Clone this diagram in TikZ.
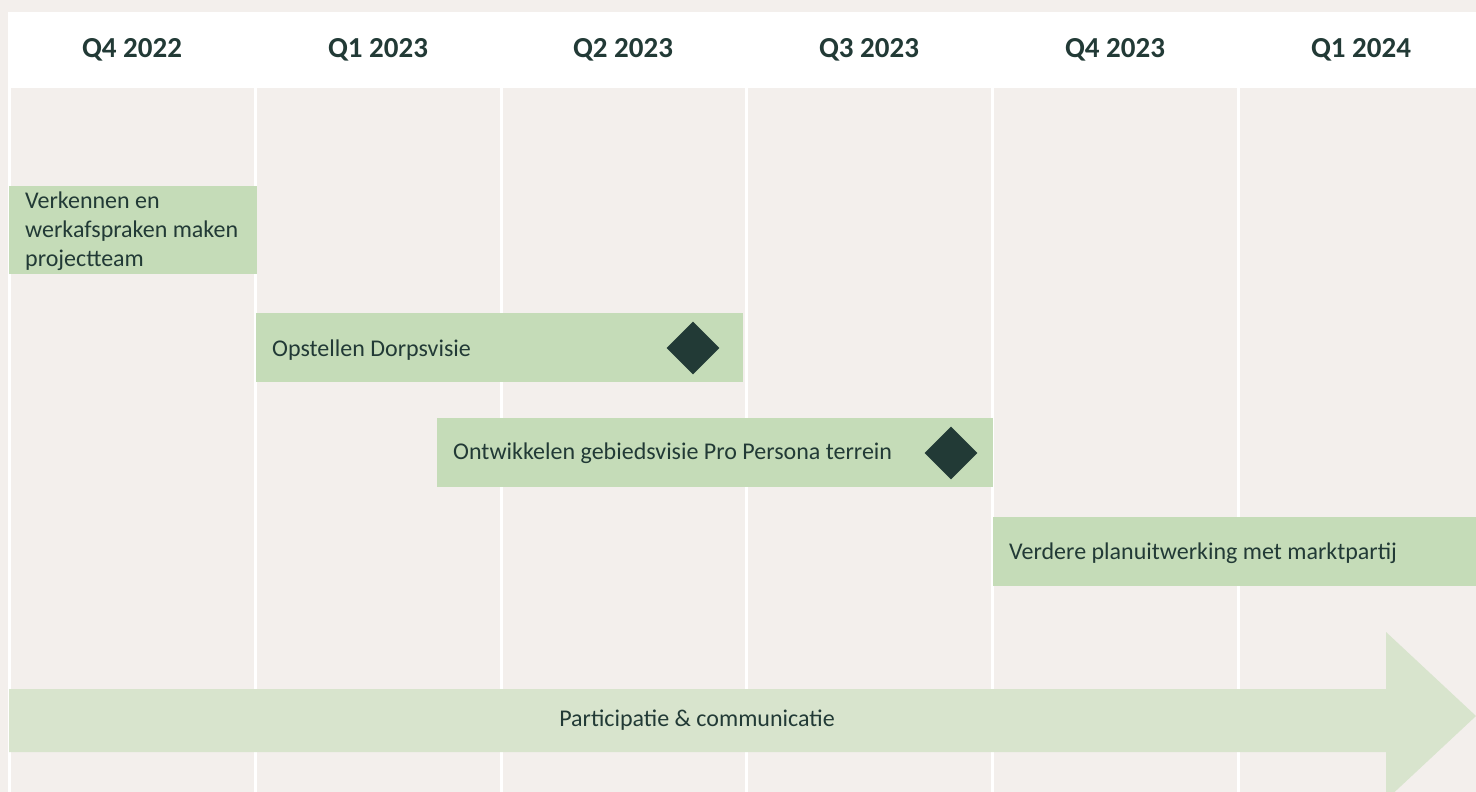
\documentclass[tikz,border=0pt]{standalone}
\usepackage{fontspec}
\setmainfont{Carlito}
\usetikzlibrary{shapes.geometric}
\definecolor{bg}{HTML}{F3EFEC}
\definecolor{barg}{HTML}{C5DCB8}
\definecolor{arrg}{HTML}{D8E4CD}
\definecolor{ink}{HTML}{223A36}
\tikzset{
  hdr/.style={font=\fontsize{29}{32}\selectfont\bfseries, text=ink},
  bartext/.style={font=\fontsize{24}{29}\selectfont, text=ink, anchor=west, align=left, inner sep=0},
  bar/.style={fill=barg, draw=none},
  mile/.style={diamond, fill=ink, draw=none, minimum width=53pt, minimum height=53pt, inner sep=0},
  sep/.style={draw=white, line width=3pt},
}
\begin{document}
\begin{tikzpicture}[x=1pt,y=-1pt]
\useasboundingbox (0,0) rectangle (1476,792);
\fill[bg] (0,0) rectangle (1476,792);
\fill[white] (8,12) rectangle (1476,88);
% column separators
\foreach \x/\n in {9.5/a,255/b,501/c,746/d,992/e,1238/f}{
  \coordinate (t\n) at (\x,88);
  \coordinate (b\n) at (\x,792);
  \draw[sep] (t\n) -- (b\n);
}
% headers
\node[hdr] (h1) at (132,50) {Q4 2022};
\node[hdr] (h2) at (378,50) {Q1 2023};
\node[hdr] (h3) at (623,50) {Q2 2023};
\node[hdr] (h4) at (869,50) {Q3 2023};
\node[hdr] (h5) at (1115,50) {Q4 2023};
\node[hdr] (h6) at (1361,50) {Q1 2024};
% bars
\fill[bar] (9,186) rectangle (257,274);
\node[bartext] (t1) at (25,231) {Verkennen en\\werkafspraken maken\\projectteam};
\fill[bar] (256,313) rectangle (743,382);
\node[bartext] (t2) at (272,350) {Opstellen Dorpsvisie};
\node[mile] (m2) at (693,348) {};
\fill[bar] (437,418) rectangle (993,487);
\node[bartext] (t3) at (453,453) {Ontwikkelen gebiedsvisie Pro Persona terrein};
\node[mile] (m3) at (951,453) {};
\fill[bar] (993,517) rectangle (1476,586);
\node[bartext] (t4) at (1009,553) {Verdere planuitwerking met marktpartij};
% arrow
\fill[arrg] (9,689) -- (1386,689) -- (1386,632) -- (1476,716) -- (1386,800) -- (1386,752) -- (9,752) -- cycle;
\node[font=\fontsize{24}{29}\selectfont, text=ink] (t5) at (697,720) {Participatie \& communicatie};
\end{tikzpicture}
\end{document}
